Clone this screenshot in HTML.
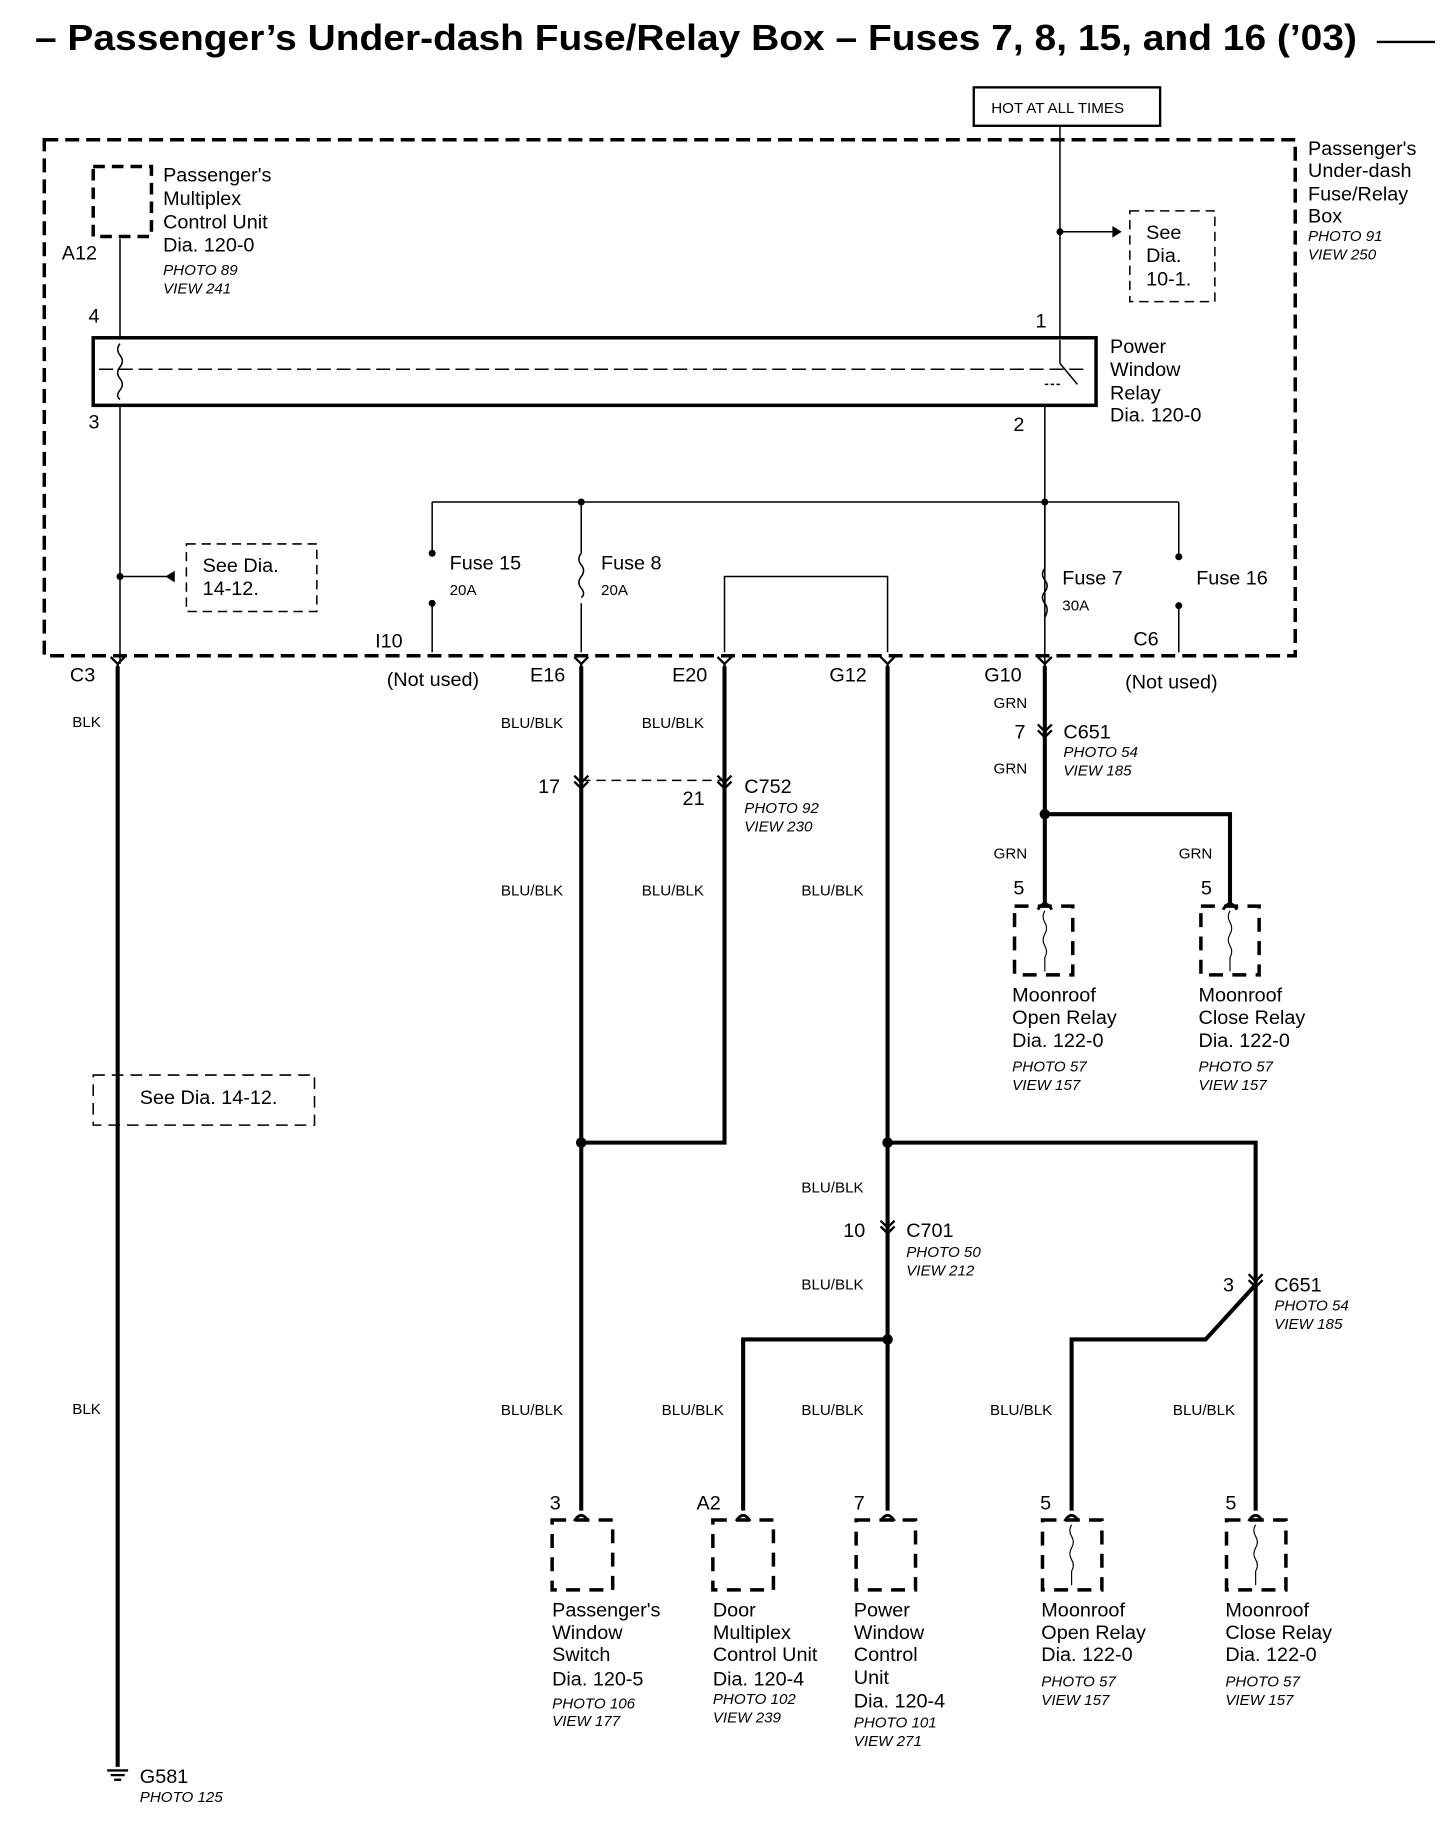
<!DOCTYPE html>
<html><head><meta charset="utf-8"><style>
html,body{margin:0;padding:0;background:#fff}
svg{display:block}
text{font-family:"Liberation Sans",sans-serif;font-size:17px;fill:#000}
.s{font-size:13px}
.i{font-size:13px;font-style:italic}
.t{font-size:31px;font-weight:bold}
</style></head><body>
<svg width="1456" height="1824" viewBox="0 0 1250 1566" xmlns="http://www.w3.org/2000/svg">
<defs>
<g id="cn"><path d="M-6,-6 L0,0 L6,-6" fill="none" stroke="#000" stroke-width="2"/><line x1="0" y1="0" x2="0" y2="8" stroke="#000" stroke-width="2"/></g>
<g id="fk"><path d="M-6,6 Q0,-4 6,6" fill="none" stroke="#000" stroke-width="2.5"/></g>
</defs>
<text x="30" y="43" class="t" textLength="1135" lengthAdjust="spacingAndGlyphs">– Passenger’s Under-dash Fuse/Relay Box – Fuses 7, 8, 15, and 16 (’03)</text>
<line x1="1182" y1="36" x2="1232" y2="36" stroke="#000" stroke-width="2"/>

<rect x="836" y="75" width="160" height="33" fill="none" stroke="#000" stroke-width="2"/>
<text x="851" y="97" class="s">HOT AT ALL TIMES</text>

<rect x="38" y="120" width="1074" height="443" fill="none" stroke="#000" stroke-width="3" stroke-dasharray="12,6"/>
<text x="1123" y="133">Passenger's</text><text x="1123" y="152">Under-dash</text><text x="1123" y="172">Fuse/Relay</text><text x="1123" y="191">Box</text>
<text x="1123" y="207" class="i">PHOTO 91</text><text x="1123" y="223" class="i">VIEW 250</text>

<g stroke="#000" fill="none" stroke-width="1.3">
<line x1="910" y1="108" x2="910" y2="290"/>
<line x1="910" y1="199" x2="955" y2="199"/>
<rect x="970" y="181" width="73" height="78" stroke-dasharray="8,5"/>
<rect x="160" y="467" width="112" height="58" stroke-dasharray="8,5"/>
<line x1="103" y1="205" x2="103" y2="290"/>
<line x1="103" y1="348" x2="103" y2="570"/>
<line x1="103" y1="495" x2="150" y2="495"/>
<line x1="85" y1="317" x2="930" y2="317" stroke-dasharray="12,5"/>
<line x1="897" y1="348" x2="897" y2="570"/>
<line x1="371" y1="431" x2="1012" y2="431"/>
<line x1="371" y1="431" x2="371" y2="475"/><line x1="371" y1="518" x2="371" y2="560"/>
<line x1="499" y1="431" x2="499" y2="475"/><path d="M499,475 q-4,5 0,10 q4,5 0,10 q-4,5 0,10 q4,5 0,8"/><line x1="499" y1="518" x2="499" y2="560"/>
<line x1="897" y1="431" x2="897" y2="488"/><path d="M897,488 q-4,5 0,10 q4,5 0,10 q-4,5 0,10 q4,5 0,12"/>
<line x1="1012" y1="431" x2="1012" y2="478"/><line x1="1012" y1="520" x2="1012" y2="560"/>
<polyline points="622,560 622,495 762,495 762,560"/>
<path d="M103,295 q-4,5 0,10 q4,5 0,10 q-4,5 0,10 q4,5 0,10 q-4,5 0,8"/>
<line x1="910" y1="292" x2="910" y2="312"/><line x1="910" y1="312" x2="925" y2="330"/><line x1="897" y1="330" x2="910" y2="330" stroke-dasharray="3,2"/>
<rect x="80" y="143" width="50" height="60" stroke-width="3" stroke-dasharray="10,6"/>
<rect x="80" y="923" width="190" height="43" stroke-dasharray="10,6"/>
<line x1="499" y1="670" x2="622" y2="670" stroke-dasharray="8,5"/>
</g>
<path d="M955,194 L963,199 L955,204Z M150,490 L142,495 L150,500Z" fill="#000"/>
<rect x="80" y="290" width="861" height="58" fill="none" stroke="#000" stroke-width="3"/>
<g fill="#000">
<circle cx="910" cy="199" r="3"/><circle cx="103" cy="495" r="3"/><circle cx="499" cy="431" r="3"/><circle cx="897" cy="431" r="3"/>
<circle cx="371" cy="475" r="3"/><circle cx="371" cy="518" r="3"/><circle cx="1012" cy="478" r="3"/><circle cx="1012" cy="520" r="3"/>
<circle cx="897" cy="699" r="4.5"/><circle cx="499" cy="981" r="4.5"/><circle cx="762" cy="981" r="4.5"/><circle cx="762" cy="1150" r="4.5"/>
</g>
<text x="140" y="156">Passenger's</text><text x="140" y="176">Multiplex</text><text x="140" y="196">Control Unit</text><text x="140" y="216">Dia.  120-0</text>
<text x="140" y="236" class="i">PHOTO 89</text><text x="140" y="252" class="i">VIEW 241</text>
<text x="53" y="223">A12</text><text x="76" y="277">4</text><text x="76" y="368">3</text>
<text x="984" y="205">See</text><text x="984" y="225">Dia.</text><text x="984" y="245">10-1.</text>
<text x="889" y="281">1</text><text x="870" y="370">2</text>
<text x="953" y="303">Power</text><text x="953" y="323">Window</text><text x="953" y="343">Relay</text><text x="953" y="362">Dia.  120-0</text>
<text x="174" y="491">See  Dia.</text><text x="174" y="511">14-12.</text>
<text x="386" y="489">Fuse 15</text><text x="386" y="511" class="s">20A</text>
<text x="516" y="489">Fuse 8</text><text x="516" y="511" class="s">20A</text>
<text x="912" y="502">Fuse 7</text><text x="912" y="524" class="s">30A</text>
<text x="1027" y="502">Fuse 16</text>
<text x="322" y="556">I10</text><text x="973" y="554">C6</text>
<text x="60" y="585">C3</text><text x="332" y="589">(Not used)</text><text x="455" y="585">E16</text><text x="577" y="585">E20</text><text x="712" y="585">G12</text><text x="845" y="585">G10</text><text x="966" y="591">(Not used)</text>

<g stroke="#000" fill="none" stroke-width="3.5">
<line x1="101" y1="572" x2="101" y2="1517"/>
<line x1="499" y1="572" x2="499" y2="1297"/>
<polyline points="622,572 622,981 499,981"/>
<line x1="762" y1="572" x2="762" y2="1297"/>
<polyline points="897,572 897,699 897,777"/>
<polyline points="897,699 1056,699 1056,777"/>
<polyline points="762,981 1078,981 1078,1297"/>
<polyline points="1078,1103 1035,1150 920,1150 920,1297"/>
<polyline points="762,1150 638,1150 638,1297"/>
</g>
<g>
<use href="#cn" x="101" y="570"/><use href="#cn" x="499" y="570"/><use href="#cn" x="622" y="570"/><use href="#cn" x="762" y="570"/><use href="#cn" x="897" y="570"/>
<use href="#cn" x="897" y="628"/><use href="#cn" x="897" y="633"/><use href="#cn" x="499" y="672"/><use href="#cn" x="499" y="677"/><use href="#cn" x="622" y="672"/><use href="#cn" x="622" y="677"/>
<use href="#cn" x="762" y="1054"/><use href="#cn" x="762" y="1059"/><use href="#cn" x="1078" y="1100"/><use href="#cn" x="1078" y="1105"/>
<use href="#fk" x="897" y="775"/><use href="#fk" x="1056" y="775"/><use href="#fk" x="499" y="1300"/><use href="#fk" x="638" y="1300"/><use href="#fk" x="762" y="1300"/><use href="#fk" x="920" y="1300"/><use href="#fk" x="1078" y="1300"/>
</g>
<g stroke="#000" fill="none" stroke-width="3" stroke-dasharray="12,8">
<rect x="871" y="778" width="50" height="59"/><rect x="1031" y="778" width="50" height="59"/>
<rect x="474" y="1305" width="52" height="60"/><rect x="612" y="1305" width="52" height="60"/><rect x="735" y="1305" width="51" height="60"/>
<rect x="895" y="1305" width="51" height="60"/><rect x="1053" y="1305" width="51" height="60"/>
</g>
<g stroke="#000" fill="none" stroke-width="1">
<path d="M897,782 q-3,5 0,10 q3,5 0,10 q-3,5 0,10 q3,5 0,10 l0,12"/>
<path d="M1056,782 q-3,5 0,10 q3,5 0,10 q-3,5 0,10 q3,5 0,10 l0,12"/>
<path d="M920,1309 q-3,5 0,10 q3,5 0,10 q-3,5 0,10 q3,5 0,10 l0,12"/>
<path d="M1078,1309 q-3,5 0,10 q3,5 0,10 q-3,5 0,10 q3,5 0,10 l0,12"/>
</g>
<g stroke="#000" stroke-width="2"><line x1="92" y1="1520" x2="110" y2="1520"/><line x1="95" y1="1524" x2="107" y2="1524"/><line x1="98" y1="1528" x2="104" y2="1528"/></g>
<text x="120" y="1531">G581</text><text x="120" y="1547" class="i">PHOTO 125</text>
<g class="s">
<text x="62" y="624" class="s">BLK</text><text x="62" y="1214" class="s">BLK</text>
<text x="430" y="625" class="s">BLU/BLK</text><text x="551" y="625" class="s">BLU/BLK</text>
<text x="430" y="769" class="s">BLU/BLK</text><text x="551" y="769" class="s">BLU/BLK</text><text x="688" y="769" class="s">BLU/BLK</text>
<text x="688" y="1024" class="s">BLU/BLK</text><text x="688" y="1107" class="s">BLU/BLK</text>
<text x="430" y="1215" class="s">BLU/BLK</text><text x="568" y="1215" class="s">BLU/BLK</text><text x="688" y="1215" class="s">BLU/BLK</text><text x="850" y="1215" class="s">BLU/BLK</text><text x="1007" y="1215" class="s">BLU/BLK</text>
<text x="853" y="608" class="s">GRN</text><text x="853" y="664" class="s">GRN</text><text x="853" y="737" class="s">GRN</text><text x="1012" y="737" class="s">GRN</text>
</g>
<text x="871" y="634">7</text><text x="913" y="634">C651</text><text x="913" y="650" class="i">PHOTO 54</text><text x="913" y="666" class="i">VIEW 185</text>
<text x="462" y="681">17</text><text x="586" y="691">21</text><text x="639" y="681">C752</text><text x="639" y="698" class="i">PHOTO 92</text><text x="639" y="714" class="i">VIEW 230</text>
<text x="870" y="768">5</text><text x="1031" y="768">5</text>
<text x="869" y="860">Moonroof</text><text x="869" y="879">Open Relay</text><text x="869" y="899">Dia.  122-0</text><text x="869" y="920" class="i">PHOTO 57</text><text x="869" y="936" class="i">VIEW 157</text>
<text x="1029" y="860">Moonroof</text><text x="1029" y="879">Close Relay</text><text x="1029" y="899">Dia.  122-0</text><text x="1029" y="920" class="i">PHOTO 57</text><text x="1029" y="936" class="i">VIEW 157</text>
<text x="120" y="948">See  Dia.  14-12.</text>
<text x="724" y="1062">10</text><text x="778" y="1062">C701</text><text x="778" y="1079" class="i">PHOTO 50</text><text x="778" y="1095" class="i">VIEW 212</text>
<text x="1050" y="1109">3</text><text x="1094" y="1109">C651</text><text x="1094" y="1125" class="i">PHOTO 54</text><text x="1094" y="1141" class="i">VIEW 185</text>
<text x="472" y="1296">3</text><text x="598" y="1296">A2</text><text x="733" y="1296">7</text><text x="893" y="1296">5</text><text x="1052" y="1296">5</text>
<text x="474" y="1388">Passenger's</text><text x="474" y="1407">Window</text><text x="474" y="1426">Switch</text><text x="474" y="1447">Dia.  120-5</text><text x="474" y="1467" class="i">PHOTO 106</text><text x="474" y="1482" class="i">VIEW 177</text>
<text x="612" y="1388">Door</text><text x="612" y="1407">Multiplex</text><text x="612" y="1426">Control Unit</text><text x="612" y="1447">Dia.  120-4</text><text x="612" y="1463" class="i">PHOTO 102</text><text x="612" y="1479" class="i">VIEW 239</text>
<text x="733" y="1388">Power</text><text x="733" y="1407">Window</text><text x="733" y="1426">Control</text><text x="733" y="1446">Unit</text><text x="733" y="1466">Dia.  120-4</text><text x="733" y="1483" class="i">PHOTO 101</text><text x="733" y="1499" class="i">VIEW 271</text>
<text x="894" y="1388">Moonroof</text><text x="894" y="1407">Open Relay</text><text x="894" y="1426">Dia.  122-0</text><text x="894" y="1448" class="i">PHOTO 57</text><text x="894" y="1464" class="i">VIEW 157</text>
<text x="1052" y="1388">Moonroof</text><text x="1052" y="1407">Close Relay</text><text x="1052" y="1426">Dia.  122-0</text><text x="1052" y="1448" class="i">PHOTO 57</text><text x="1052" y="1464" class="i">VIEW 157</text>
</svg>
</body></html>
